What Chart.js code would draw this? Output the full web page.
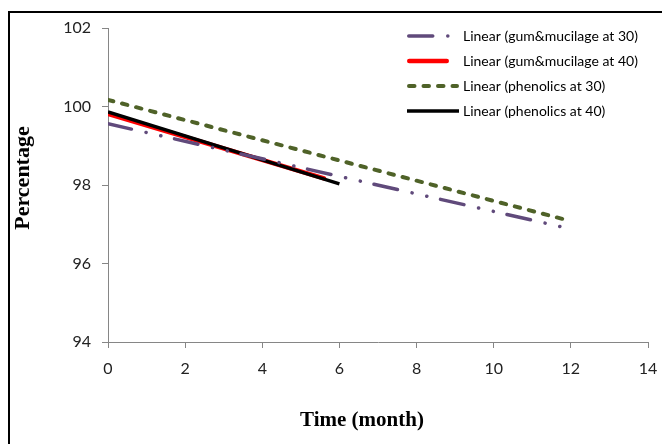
<!DOCTYPE html>
<html>
<head>
<meta charset="utf-8">
<script src="https://cdn.jsdelivr.net/npm/chart.js@4.4.0/dist/chart.umd.min.js"></script>
<style>
  html, body { margin: 0; padding: 0; background: #fff; }
  #wrap { position: relative; width: 662px; height: 444px; }
</style>
</head>
<body>
<div id="wrap"><canvas id="c" width="662" height="444"></canvas></div>
<script>
// ---- data (trendline endpoints) ----
const seriesNames = [
  'Linear (gum&mucilage at 30)',
  'Linear (gum&mucilage at 40)',
  'Linear (phenolics at 30)',
  'Linear (phenolics at 40)'
];
const gum30X = [0, 12];
const gum30Y = [99.56, 96.88];
const gum40X = [0, 5.6];
const gum40Y = [99.81, 98.17];
const phen30X = [0, 12];
const phen30Y = [100.17, 97.08];
const phen40X = [0, 6];
const phen40Y = [99.86, 98.03];
const xTicks = [0, 2, 4, 6, 8, 10, 12, 14];
const yTicks = [94, 96, 98, 100, 102];
const xTitle = 'Time (month)';
const yTitle = 'Percentage';

function pts(xs, ys) { return xs.map((x, i) => ({ x: x, y: ys[i] })); }

const styles = [
  { color: '#604a7b', width: 3.5, dash: [24, 15, 0.1, 15, 0.1, 14], cap: 'round', order: 0, legLen: 43 },
  { color: '#ff0000', width: 4.5, dash: [], cap: 'round', order: 2, legLen: 42 },
  { color: '#4f6228', width: 4, dash: [5.5, 9], cap: 'round', order: 3, legLen: 52 },
  { color: '#000000', width: 3.5, dash: [], cap: 'butt', order: 1, legLen: 52 }
];
const seriesData = [pts(gum30X, gum30Y), pts(gum40X, gum40Y), pts(phen30X, phen30Y), pts(phen40X, phen40Y)];

const datasets = seriesNames.map((n, i) => ({
  label: n,
  data: seriesData[i],
  showLine: true,
  borderColor: styles[i].color,
  backgroundColor: styles[i].color,
  borderWidth: styles[i].width,
  borderDash: styles[i].dash,
  borderCapStyle: styles[i].cap,
  pointRadius: 0,
  pointHoverRadius: 0,
  fill: false,
  tension: 0,
  order: styles[i].order
}));

const framePlugin = {
  id: 'frame',
  beforeDraw(chart) {
    const ctx = chart.ctx;
    ctx.save();
    ctx.fillStyle = '#ffffff';
    ctx.fillRect(0, 0, chart.width, chart.height);
    ctx.fillStyle = '#000000';
    ctx.fillRect(8, 11, 2, chart.height - 11);
    ctx.fillRect(8, 11, chart.width - 8, 2);
    ctx.restore();
  }
};

const titlesPlugin = {
  id: 'titles',
  afterDraw(chart) {
    const ctx = chart.ctx;
    ctx.save();
    ctx.fillStyle = '#000';
    ctx.font = 'bold 21px "Liberation Serif", "Times New Roman", serif';
    ctx.textAlign = 'center';
    ctx.textBaseline = 'middle';
    ctx.fillText(xTitle, 362, 421);
    ctx.translate(23, 178);
    ctx.rotate(-Math.PI / 2);
    ctx.font = 'bold 22px "Liberation Serif", "Times New Roman", serif';
    ctx.fillText(yTitle, 0, 0);
    ctx.restore();
  }
};

const legendPlugin = {
  id: 'customLegend',
  afterDraw(chart) {
    const ctx = chart.ctx;
    const x0 = 407, textX = 463, y0 = 36, dy = 25;
    ctx.save();
    chart.data.datasets.forEach((ds, i) => {
      const y = y0 + i * dy;
      const st = styles[i];
      ctx.beginPath();
      ctx.strokeStyle = st.color;
      ctx.lineWidth = st.width;
      ctx.lineCap = st.cap;
      ctx.setLineDash(st.dash);
      const cap = st.cap === 'round' ? st.width / 2 : 0;
      ctx.moveTo(x0 + cap, y);
      ctx.lineTo(x0 + st.legLen - cap, y);
      ctx.stroke();
      ctx.setLineDash([]);
      ctx.fillStyle = '#000';
      ctx.font = '14px Lato, "Open Sans", sans-serif';
      ctx.textAlign = 'left';
      ctx.textBaseline = 'middle';
      ctx.fillText(ds.label, textX, y);
    });
    ctx.restore();
  }
};

new Chart(document.getElementById('c'), {
  type: 'scatter',
  data: { datasets: datasets },
  options: {
    responsive: false,
    animation: false,
    devicePixelRatio: 1,
    layout: { padding: { left: 0, top: 28, right: 14, bottom: 0 } },
    plugins: { legend: { display: false }, tooltip: { enabled: false }, title: { display: false } },
    scales: {
      x: {
        type: 'linear',
        min: 0, max: 14,
        afterBuildTicks(scale) { scale.ticks = xTicks.map(v => ({ value: v })); },
        afterFit(scale) { scale.height = 102; scale.paddingLeft = 0; scale.paddingRight = 0; },
        border: { display: true, color: '#868686', width: 1 },
        grid: { display: true, drawOnChartArea: false, drawTicks: true, tickLength: 6, color: '#868686' },
        ticks: { color: '#222', font: { family: 'Lato', size: 16 }, padding: 11, maxRotation: 0 },
        title: { display: false }
      },
      y: {
        type: 'linear',
        min: 94, max: 102,
        afterBuildTicks(scale) { scale.ticks = yTicks.map(v => ({ value: v })); },
        afterFit(scale) { scale.width = 108; scale.paddingTop = 0; scale.paddingBottom = 0; },
        border: { display: true, color: '#868686', width: 1 },
        grid: { display: true, drawOnChartArea: false, drawTicks: true, tickLength: 6, color: '#868686' },
        ticks: { color: '#222', font: { family: 'Lato', size: 16 }, padding: 11 },
        title: { display: false }
      }
    }
  },
  plugins: [framePlugin, titlesPlugin, legendPlugin]
});
</script>
</body>
</html>
